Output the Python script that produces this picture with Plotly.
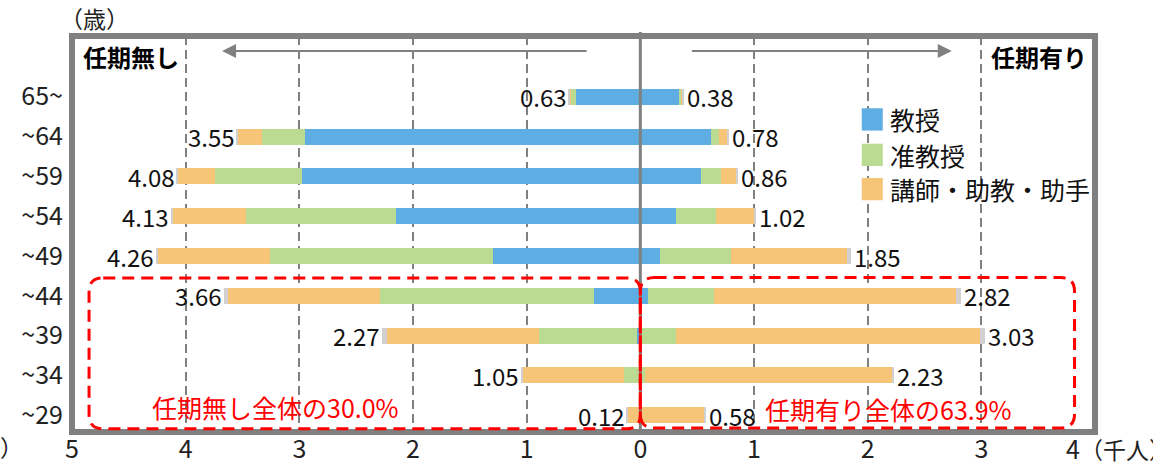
import plotly.graph_objects as go

# Age groups, top to bottom
ages = ["65~", "~64", "~59", "~54", "~49", "~44", "~39", "~34", "~29"]

# Thousands of people, without a fixed term (left side)
no_term_prof = [0.57, 2.95, 2.98, 2.15, 1.30, 0.41, 0.03, 0.00, 0.00]
no_term_assoc = [0.04, 0.38, 0.76, 1.32, 1.96, 1.88, 0.86, 0.14, 0.00]
no_term_lect = [0.015, 0.21, 0.33, 0.65, 0.99, 1.34, 1.34, 0.89, 0.11]
no_term_other = [0.005, 0.01, 0.01, 0.01, 0.01, 0.03, 0.04, 0.02, 0.01]
no_term_total = [0.63, 3.55, 4.08, 4.13, 4.26, 3.66, 2.27, 1.05, 0.12]

# Thousands of people, with a fixed term (right side)
term_prof = [0.34, 0.62, 0.53, 0.31, 0.17, 0.07, 0.01, 0.00, 0.00]
term_assoc = [0.02, 0.07, 0.18, 0.36, 0.63, 0.58, 0.30, 0.04, 0.00]
term_lect = [0.015, 0.08, 0.14, 0.33, 1.02, 2.13, 2.68, 2.17, 0.56]
term_other = [0.005, 0.01, 0.01, 0.02, 0.03, 0.04, 0.04, 0.02, 0.02]
term_total = [0.38, 0.78, 0.86, 1.02, 1.85, 2.82, 3.03, 2.23, 0.58]

series_names = ["教授", "准教授", "講師・助教・助手", "その他"]
series_colors = ["#5EADE3", "#BCDB92", "#F6C577", "#D0D0D0"]

tick_vals = [-5, -4, -3, -2, -1, 0, 1, 2, 3]
tick_text = ["5", "4", "3", "2", "1", "0", "1", "2", "3"]

share_no_term = "任期無し全体の30.0%"
share_term = "任期有り全体の63.9%"

FONT = "Noto Sans CJK JP"
GRAY = "#808080"

y_idx = list(range(len(ages)))
fig = go.Figure()

left_sets = [no_term_prof, no_term_assoc, no_term_lect, no_term_other]
right_sets = [term_prof, term_assoc, term_lect, term_other]
for name, color, lv, rv in zip(series_names, series_colors, left_sets, right_sets):
    fig.add_trace(go.Bar(y=y_idx, x=[-v for v in lv], orientation="h", name=name,
                         marker=dict(color=color, line=dict(width=0)),
                         width=0.4, showlegend=False, hoverinfo="skip"))
    fig.add_trace(go.Bar(y=y_idx, x=rv, orientation="h", name=name,
                         marker=dict(color=color, line=dict(width=0)),
                         width=0.4, showlegend=False, hoverinfo="skip"))

annotations = []
# Totals at bar ends
for i, (lt, rt) in enumerate(zip(no_term_total, term_total)):
    annotations.append(dict(x=-lt, y=i, xref="x", yref="y", text=f"{lt:.2f}",
                            showarrow=False, xanchor="right", xshift=0,
                            font=dict(size=24, color="#111")))
    annotations.append(dict(x=rt, y=i, xref="x", yref="y", text=f"{rt:.2f}",
                            showarrow=False, xanchor="left", xshift=1,
                            font=dict(size=24, color="#111")))

# Side headings and direction arrows
annotations += [
    dict(x=-4.92, y=-1.02, xref="x", yref="y", text="<b>任期無し</b>", showarrow=False,
         xanchor="left", font=dict(size=24, color="#000")),
    dict(x=3.95, y=-1.02, xref="x", yref="y", text="<b>任期有り</b>", showarrow=False,
         xanchor="right", font=dict(size=24, color="#000")),
    dict(x=-3.68, y=-1.15, ax=-0.46, ay=-1.15, xref="x", yref="y", axref="x", ayref="y",
         text="", showarrow=True, arrowhead=2, arrowsize=1.4, arrowwidth=2, arrowcolor=GRAY),
    dict(x=2.74, y=-1.15, ax=0.44, ay=-1.15, xref="x", yref="y", axref="x", ayref="y",
         text="", showarrow=True, arrowhead=2, arrowsize=1.4, arrowwidth=2, arrowcolor=GRAY),
    dict(x=-4.31, y=7.8, xref="x", yref="y", text=share_no_term, showarrow=False,
         xanchor="left", font=dict(size=25, color="#FF0000")),
    dict(x=1.08, y=7.85, xref="x", yref="y", text=share_term, showarrow=False,
         xanchor="left", font=dict(size=25, color="#FF0000")),
    # Unit labels
    dict(x=-0.014, y=1.0, xref="paper", yref="paper", yanchor="bottom", yshift=-1,
         text="（歳）", showarrow=False, xanchor="left", font=dict(size=23, color="#222")),
    dict(x=4, y=0, xref="x", yref="paper", yanchor="top", yshift=4, xshift=-31,
         text='4<span style="font-size:23px">（千人）</span>', showarrow=False,
         xanchor="left", font=dict(size=25, color="#222")),
    dict(x=-0.046, y=0, xref="paper", yref="paper", yanchor="top", yshift=4,
         text="（千人）", showarrow=False, xanchor="right", font=dict(size=23, color="#222")),
]

# Legend drawn as colour swatches with labels
legend_rows = [0.57, 1.46, 2.32]
shapes = []
for row, name, color in zip(legend_rows, series_names[:3], series_colors[:3]):
    shapes.append(dict(type="rect", xref="x", yref="y", x0=1.948, x1=2.133,
                       y0=row - 0.28, y1=row + 0.28, fillcolor=color, line=dict(width=0)))
    annotations.append(dict(x=2.18, y=row, xref="x", yref="y", text=name, showarrow=False,
                            xanchor="left", font=dict(size=25, color="#111")))

# Centre axis line
shapes.append(dict(type="line", xref="x", yref="paper", x0=0, x1=0, y0=-0.005, y1=1.01,
                   line=dict(color=GRAY, width=3), layer="above"))
# Plot frame
shapes.append(dict(type="rect", xref="paper", yref="paper", x0=0, x1=1, y0=0, y1=1,
                   line=dict(color=GRAY, width=6), fillcolor="rgba(0,0,0,0)", layer="above"))


def rounded_box(x0, x1, y0, y1, rx=0.125, ry=0.35):
    return (f"M {x0 + rx},{y0} L {x1 - rx},{y0} Q {x1},{y0} {x1},{y0 + ry} "
            f"L {x1},{y1 - ry} Q {x1},{y1} {x1 - rx},{y1} L {x0 + rx},{y1} "
            f"Q {x0},{y1} {x0},{y1 - ry} L {x0},{y0 + ry} Q {x0},{y0} {x0 + rx},{y0} Z")


red_line = dict(color="#FF0000", width=3, dash="12px,7px")
shapes.append(dict(type="path", xref="x", yref="y", path=rounded_box(-4.85, 0, 4.55, 8.34),
                   line=red_line, layer="above"))
shapes.append(dict(type="path", xref="x", yref="y", path=rounded_box(0, 3.82, 4.54, 8.32),
                   line=red_line, layer="above"))

fig.update_layout(
    width=1153, height=464,
    margin=dict(l=72, r=58, t=36, b=32, autoexpand=False),
    barmode="relative",
    bargap=0,
    plot_bgcolor="white", paper_bgcolor="white",
    font=dict(family=FONT, color="#111"),
    showlegend=False,
    shapes=shapes,
    annotations=annotations,
    xaxis=dict(range=[-5, 4], tickvals=tick_vals, ticktext=tick_text, automargin=False,
               showgrid=True, gridcolor=GRAY, gridwidth=2, griddash="9px,5px",
               zeroline=False, showline=False, ticks="", ticklabelstandoff=0,
               tickfont=dict(size=25, color="#222"), fixedrange=True),
    yaxis=dict(range=[8.42, -1.525], tickvals=y_idx, ticktext=ages, automargin=False,
               showgrid=False, zeroline=False, showline=False, ticks="",
               ticklabelstandoff=8, tickfont=dict(size=25, color="#222"), fixedrange=True),
)

fig.write_html("out.html")
